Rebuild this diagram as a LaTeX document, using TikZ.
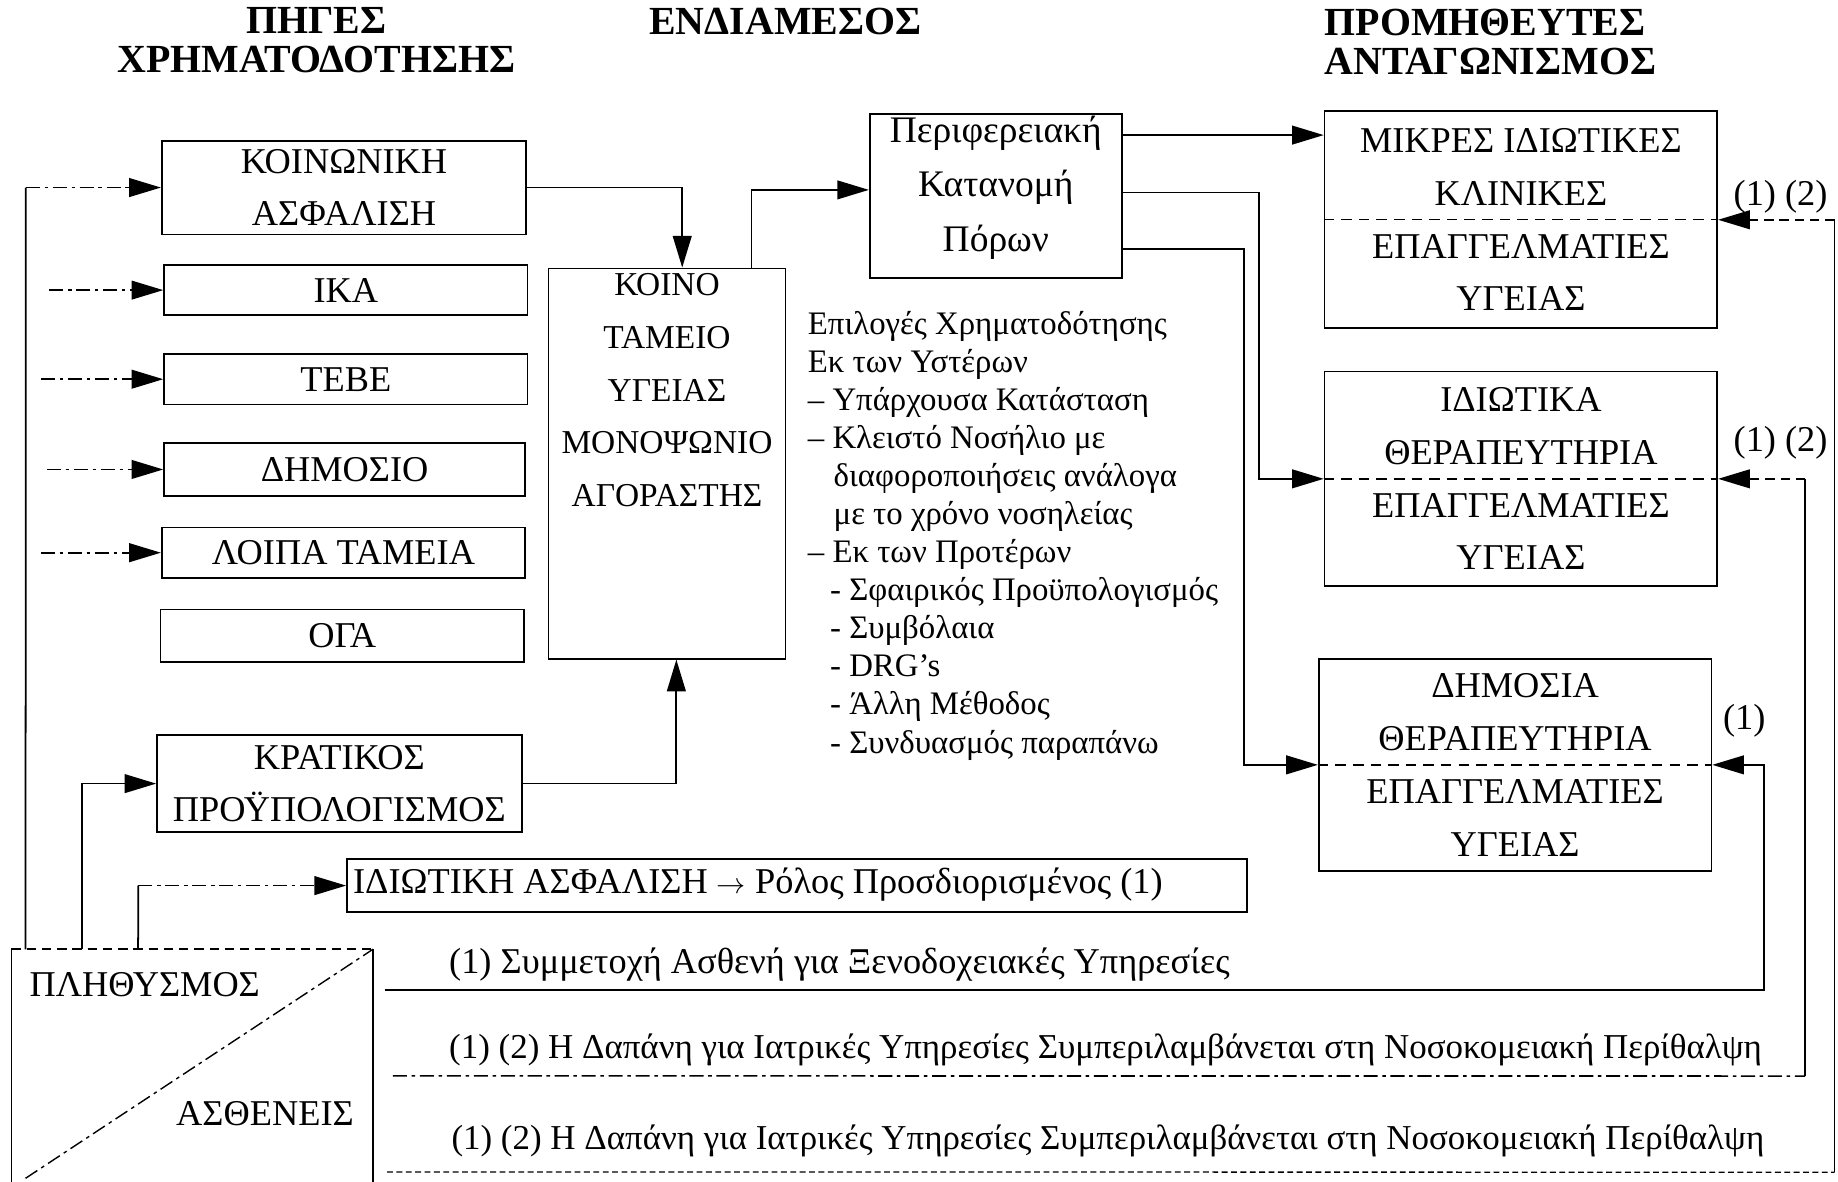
\documentclass[tikz,border=0pt]{standalone}
\usepackage{fontspec}
\setmainfont{Liberation Serif}
\usetikzlibrary{arrows.meta,calc}
\newcommand\capsf{\fontsize{31}{45}\selectfont}
\newcommand\koinof{\fontsize{28.5}{45}\selectfont}
\newcommand\titlef{\fontsize{34}{33}\selectfont\bfseries}
\newcommand\midf{\fontsize{28}{32.5}\selectfont}
\newcommand\notef{\fontsize{31}{36}\selectfont}
\newcommand\notesf{\fontsize{29.8}{36}\selectfont}
\newcommand\perf{\fontsize{32}{46.5}\selectfont}
\begin{document}
\begin{tikzpicture}[x=1pt,y=-1pt,
  bx/.style={draw, line width=1.5pt, inner sep=0pt, font=\capsf, align=center},
  conn/.style={line width=1.5pt},
  dd/.style={line width=1.4pt, dash pattern=on 12pt off 4pt on 3pt off 4pt},
  dsh/.style={line width=1.3pt, dash pattern=on 8pt off 5pt},
  arr/.style={-{Triangle[length=27pt,width=16pt]}},
  divl/.style={line width=1.2pt, dash pattern=on 9pt off 6pt},
  txt/.style={inner sep=0pt}]
\useasboundingbox (0,0) rectangle (1568,1008);

% titles
\node[txt, font=\titlef, align=center] (t1) at (270,34) {ΠΗΓΕΣ\\ΧΡΗΜΑΤΟΔΟΤΗΣΗΣ};
\node[txt, font=\titlef] (t2) at (670,18) {ΕΝΔΙΑΜΕΣΟΣ};
\node[txt, font=\titlef, align=left, anchor=west] (t3) at (1130,36) {ΠΡΟΜΗΘΕΥΤΕΣ\\ΑΝΤΑΓΩΝΙΣΜΟΣ};

% left boxes
\node[bx, minimum width=311pt, minimum height=80pt] (ka) at (293.5,160) {ΚΟΙΝΩΝΙΚΗ\\ΑΣΦΑΛΙΣΗ};
\node[bx, minimum width=310pt, minimum height=43pt] (ika) at (295,247.5) {ΙΚΑ};
\node[bx, minimum width=310pt, minimum height=43pt] (tebe) at (295,323.5) {ΤΕΒΕ};
\node[bx, minimum width=308pt, minimum height=45pt] (dim) at (294,400.5) {ΔΗΜΟΣΙΟ};
\node[bx, minimum width=310pt, minimum height=43pt] (loipa) at (293,471.5) {ΛΟΙΠΑ ΤΑΜΕΙΑ};
\node[bx, minimum width=310pt, minimum height=45pt] (oga) at (292,542.5) {ΟΓΑ};
\node[bx, minimum width=311pt, minimum height=83pt] (krat) at (289.5,668.5) {ΚΡΑΤΙΚΟΣ\\ΠΡΟΫΠΟΛΟΓΙΣΜΟΣ};

% private insurance
\node[bx, minimum width=768pt, minimum height=45pt] (idasf) at (680,755.5) {};
\node[txt, font=\capsf, anchor=west] (idasft) at (301,755) {ΙΔΙΩΤΙΚΗ ΑΣΦΑΛΙΣΗ $\rightarrow$ Ρόλος Προσδιορισμένος (1)};

% common fund
\node[bx, minimum width=202pt, minimum height=333pt] (koino) at (569,395.5) {};
\node[txt, font=\koinof, align=center] (koinot) at (569,333) {ΚΟΙΝΟ\\ΤΑΜΕΙΟ\\ΥΓΕΙΑΣ\\ΜΟΝΟΨΩΝΙΟ\\ΑΓΟΡΑΣΤΗΣ};

% regional allocation
\node[bx, minimum width=215pt, minimum height=140pt] (per) at (849.5,167) {};
\node[txt, font=\perf, align=center] (pert) at (849.5,160) {Περιφερειακή\\Κατανομή\\Πόρων};

% options text
\node[txt, font=\midf, align=left, anchor=north west] (opts) at (689,265) {%
Επιλογές Χρηματοδότησης\\
Εκ των Υστέρων\\
– Υπάρχουσα Κατάσταση\\
– Κλειστό Νοσήλιο με\\
\hspace*{22pt}διαφοροποιήσεις ανάλογα\\
\hspace*{22pt}με το χρόνο νοσηλείας\\
– Εκ των Προτέρων\\
\hspace*{19pt}- Σφαιρικός Προϋπολογισμός\\
\hspace*{19pt}- Συμβόλαια\\
\hspace*{19pt}- DRG's\\
\hspace*{19pt}- Άλλη Μέθοδος\\
\hspace*{19pt}- Συνδυασμός παραπάνω};

% providers
\node[bx, minimum width=335pt, minimum height=185pt] (mikr) at (1297.5,187.5) {ΜΙΚΡΕΣ ΙΔΙΩΤΙΚΕΣ\\ΚΛΙΝΙΚΕΣ\\ΕΠΑΓΓΕΛΜΑΤΙΕΣ\\ΥΓΕΙΑΣ};
\node[bx, minimum width=335pt, minimum height=183pt] (idth) at (1297.5,408.5) {ΙΔΙΩΤΙΚΑ\\ΘΕΡΑΠΕΥΤΗΡΙΑ\\ΕΠΑΓΓΕΛΜΑΤΙΕΣ\\ΥΓΕΙΑΣ};
\node[bx, minimum width=335pt, minimum height=181pt] (dith) at (1292.5,652.5) {ΔΗΜΟΣΙΑ\\ΘΕΡΑΠΕΥΤΗΡΙΑ\\ΕΠΑΓΓΕΛΜΑΤΙΕΣ\\ΥΓΕΙΑΣ};
\draw[divl] (mikr.west) -- (mikr.east);
\draw[divl] (idth.west) -- (idth.east);
\draw[divl] (dith.west) -- (dith.east);

% population / patients
\node[inner sep=0pt, minimum width=308pt, minimum height=200pt] (pop) at (164,910) {};
\draw[line width=1.5pt] (pop.north west) -- (pop.south west);
\draw[line width=1.5pt] (pop.north east) -- (pop.south east);
\draw[dsh] (pop.north west) -- (pop.north east);
\draw[dd, line width=1.2pt] ($(pop.south west)+(12,-5)$) -- (pop.north east);
\node[txt, font=\capsf, anchor=west] (popt) at (25,840) {ΠΛΗΘΥΣΜΟΣ};
\node[txt, font=\capsf, anchor=east] (asth) at (302,950) {ΑΣΘΕΝΕΙΣ};

% left feeding lines
\coordinate (vbot) at ($(pop.north west)+(12,0)$);
\coordinate (vtop) at (22,160);
\draw[conn] (vbot) -- (vtop);
\draw[dd, arr] (vtop) -- (ka.west);
\coordinate (s1) at (42,247.5);
\coordinate (s2) at (35,323.5);
\coordinate (s3) at (40,400.5);
\coordinate (s4) at (35,471.5);
\draw[dd, arr] (s1) -- (ika.west);
\draw[dd, arr] (s2) -- (tebe.west);
\draw[dd, arr] (s3) -- (dim.west);
\draw[dd, arr] (s4) -- (loipa.west);

\coordinate (pk) at ($(pop.north west)+(60,0)$);
\draw[conn, arr] (pk) |- (krat.west);
\coordinate (pi) at ($(pop.north west)+(108,0)$);
\coordinate (pic) at (118,755.5);
\draw[conn] (pi) -- (pic);
\draw[dd, arr] (pic) -- (idasf.west);

% fund connections
\coordinate (kin) at ($(koino.north)+(13,0)$);
\draw[conn, arr] (ka.east) -| (kin);
\coordinate (kout) at ($(koino.north)+(72,0)$);
\draw[conn, arr] (kout) |- ($(per.west)+(0,-5)$);
\coordinate (kbot) at ($(koino.south)+(8,0)$);
\draw[conn, arr] (krat.east) -| (kbot);

% allocation to providers
\draw[conn, arr] ($(per.north east)+(0,19)$) -- ($(mikr.north west)+(0,21)$);
\draw[conn, arr] ($(per.north east)+(0,68)$) -| ($(idth.west)+(-55,0)$) -- (idth.west);
\draw[conn, arr] ($(per.north east)+(0,116)$) -| ($(dith.west)+(-63,0)$) -- (dith.west);

% notes
\node[txt, font=\notef, anchor=west] (n1) at (383,823) {(1) Συμμετοχή Ασθενή για Ξενοδοχειακές Υπηρεσίες};
\node[txt, font=\notesf, anchor=west] (n2) at (383,896) {(1) (2) Η Δαπάνη για Ιατρικές Υπηρεσίες Συμπεριλαμβάνεται στη Νοσοκομειακή Περίθαλψη};
\node[txt, font=\notesf, anchor=west] (n3) at (385,973) {(1) (2) Η Δαπάνη για Ιατρικές Υπηρεσίες Συμπεριλαμβάνεται στη Νοσοκομειακή Περίθαλψη};

\coordinate (n1s) at ($(pop.north east)+(10,35)$);
\coordinate (c1) at (1505,652.5);
\draw[conn, arr] (n1s) -| (c1) -- (dith.east);
\node[txt, font=\notef] (l1) at (1488,615) {(1)};

\coordinate (n2s) at ($(pop.north east)+(17,108)$);
\coordinate (c2b) at (1540,918);
\coordinate (c2t) at (1540,408.5);
\draw[dd] (n2s) -- (c2b);
\draw[conn] (c2b) -- (c2t);
\draw[dsh, arr] (c2t) -- (idth.east);
\node[txt, font=\notef] (l2) at (1519,378) {(1) (2)};

\coordinate (n3s) at ($(pop.north east)+(12,190)$);
\coordinate (c3b) at (1565,1000);
\coordinate (c3t) at (1565,187.5);
\draw[dsh, line width=1.1pt, dash pattern=on 5pt off 3pt] (n3s) -- (c3b);
\draw[conn] (c3b) -- (c3t);
\draw[dsh, arr] (c3t) -- (mikr.east);
\node[txt, font=\notef] (l3) at (1519,168) {(1) (2)};
\end{tikzpicture}
\end{document}
